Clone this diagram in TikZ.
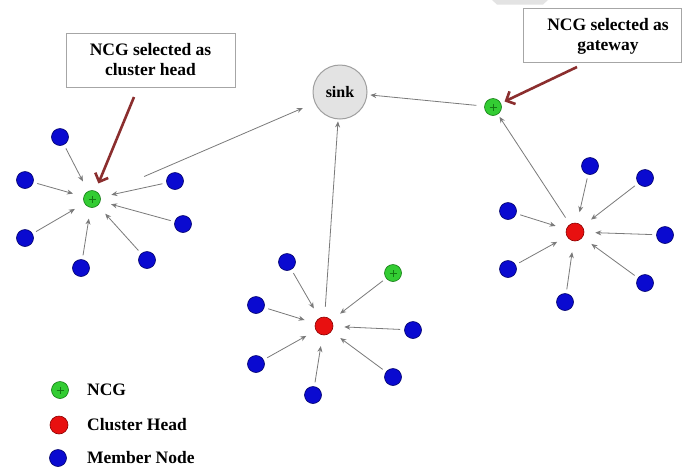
\documentclass[tikz,border=0pt]{standalone}
\usepackage{fontspec}
\setmainfont{Liberation Serif}
\usetikzlibrary{arrows.meta}
\definecolor{mblue}{HTML}{0A0AD0}
\definecolor{mblueD}{HTML}{00006A}
\definecolor{chred}{HTML}{E81010}
\definecolor{chredD}{HTML}{8A0000}
\definecolor{ncgG}{HTML}{33CC33}
\definecolor{ncgD}{HTML}{137A13}
\definecolor{arrred}{HTML}{8B2E2E}
\definecolor{conng}{HTML}{7A7A7A}
\tikzset{
  member/.style={circle,fill=mblue,draw=mblueD,line width=0.6pt,minimum size=17pt,inner sep=0pt},
  chead/.style={circle,fill=chred,draw=chredD,line width=0.6pt,minimum size=18pt,inner sep=0pt},
  ncg/.style={circle,fill=ncgG,draw=ncgD,line width=0.6pt,minimum size=17pt,inner sep=0pt,
    path picture={\draw[ncgD,line width=1pt]
      ([xshift=-3.5pt]path picture bounding box.center)--([xshift=3.5pt]path picture bounding box.center)
      ([yshift=-3.5pt]path picture bounding box.center)--([yshift=3.5pt]path picture bounding box.center);}},
  conn/.style={draw=conng,line width=0.8pt,-{Stealth[length=6pt,width=5pt]},shorten <=4pt,shorten >=11pt},
  callout/.style={draw=arrred,line width=2.6pt,-{Straight Barb[length=7pt,width=14pt]}},
  labelbox/.style={draw=gray!70,line width=1pt,fill=white,align=center,inner sep=0pt,
    font=\fontsize{17.5}{20}\selectfont\bfseries},
  legtext/.style={anchor=west,inner sep=0pt,font=\fontsize{17.5}{20}\selectfont\bfseries},
}
\begin{document}
\begin{tikzpicture}[x=1pt,y=-1pt]
\useasboundingbox (0,0) rectangle (683,467);
\fill[white] (0,0) rectangle (683,467);
\fill[gray!22] (492,0)--(548,0)--(543,4.5)--(497,4.5)--cycle;

% callout boxes
\node[labelbox,minimum width=169pt,minimum height=54pt] (box1) at (150.5,60) {NCG selected as\\cluster head};
\draw[gray!70,line width=1pt,fill=white] (523,8) rectangle (681,62);
\node[align=center,inner sep=0pt,font=\fontsize{17.5}{20}\selectfont\bfseries] (box2) at (608,36) {NCG selected as\\gateway};

% sink
\node[circle,fill=gray!22,draw=gray!75,line width=1pt,minimum size=54pt,inner sep=0pt,
  font=\fontsize{16}{18}\selectfont\bfseries] (sink) at (340,92) {sink};

% left cluster
\node[ncg] (g1) at (92,199) {};
\node[member] (a1) at (60,137) {};
\node[member] (a2) at (25,180) {};
\node[member] (a3) at (175,181) {};
\node[member] (a4) at (183,224) {};
\node[member] (a5) at (25,238) {};
\node[member] (a6) at (147,260) {};
\node[member] (a7) at (81,268) {};
\foreach \m in {a1,a2,a3,a4,a5,a6,a7} \draw[conn] (\m) -- (g1);

% middle cluster
\node[chead] (c2) at (324,326) {};
\node[member] (b1) at (287,262) {};
\node[member] (b2) at (256,305) {};
\node[member] (b3) at (256,364) {};
\node[member] (b4) at (313,395) {};
\node[member] (b5) at (393,377) {};
\node[member] (b6) at (413,330) {};
\node[ncg] (g2) at (393,273) {};
\foreach \m in {b1,b2,b3,b4,b5,b6,g2} \draw[conn] (\m) -- (c2);

% right cluster
\node[chead] (c3) at (575,232) {};
\node[ncg] (g3) at (493,107) {};
\node[member] (r1) at (590,166) {};
\node[member] (r2) at (645,178) {};
\node[member] (r3) at (508,211) {};
\node[member] (r4) at (665,235) {};
\node[member] (r5) at (508,269) {};
\node[member] (r6) at (645,283) {};
\node[member] (r7) at (565,302) {};
\foreach \m in {r1,r2,r3,r4,r5,r6,r7} \draw[conn] (\m) -- (c3);

% routes to sink
\draw[conn,shorten <=48pt,shorten >=13pt] (g1) -- (sink);
\draw[conn,shorten <=10pt,shorten >=2pt] (c2) -- (sink);
\draw[conn,shorten <=8pt,shorten >=3pt] (c3) -- (g3);
\draw[conn,shorten <=8pt,shorten >=3pt] (g3) -- (sink);

% callout arrows
\coordinate (p1) at (134,97);
\coordinate (p2) at (577,67);
\draw[callout,shorten >=8pt] (p1) -- (g1);
\draw[callout,shorten >=4pt] (p2) -- (g3);

% legend
\node[ncg] (k1) at (60,390) {};
\node[chead] (k2) at (59,425) {};
\node[member] (k3) at (58,458) {};
\node[legtext] (t1) at (87,390) {NCG};
\node[legtext] (t2) at (87,425) {Cluster Head};
\node[legtext] (t3) at (87,458) {Member Node};
\end{tikzpicture}
\end{document}
